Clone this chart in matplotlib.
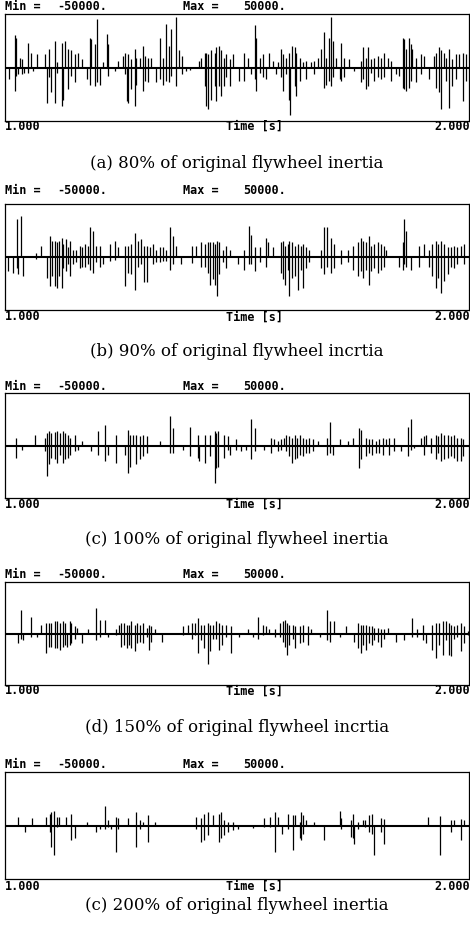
import matplotlib
matplotlib.use("Agg")
import matplotlib.pyplot as plt

# spikes: (time offset in ms from 1.000 s, peak up, peak down) in units of 1000
SPIKES_A = [
    (9, 0, -11), (22, 30, -22), (24, 28, -8), (29, 0, -6), (32, 9, 0), (36, 8, -6), (41, 0, -5),
    (50, 23, -5), (57, 14, 0), (61, 0, -3), (68, 13, 0), (86, 13, 0), (90, 0, -33), (95, 17, -9),
    (100, 0, -23), (108, 25, -33), (111, 5, -5), (122, 23, -36), (125, 0, -30), (129, 25, 0),
    (136, 17, -20), (143, 16, -8), (151, 13, -14), (158, 14, 0), (165, 8, 0), (176, 0, -11),
    (183, 28, -16), (186, 27, 0), (194, 22, -17), (199, 45, -14), (204, 0, -16), (212, 5, 0),
    (219, 31, 0), (222, 22, -8), (237, 0, -3), (244, 6, 0), (255, 11, 0), (258, 14, -6),
    (262, 0, -31), (265, 13, -33), (272, 8, -20), (280, 17, -36), (283, 9, -16), (290, 9, 0),
    (298, 20, -22), (301, 11, -13), (308, 9, -14), (315, 9, 0), (326, 0, -14), (333, 28, -11),
    (341, 9, -16), (348, 41, -13), (353, 20, -14), (358, 36, -8), (368, 47, -17), (376, 16, 0),
    (382, 11, -6), (391, 0, -3), (398, 0, -2), (419, 6, 0), (423, 9, 0), (430, 14, -17),
    (434, 14, -36), (437, 13, -39), (445, 16, -30), (452, 14, -17), (455, 19, -31), (462, 20, -17),
    (466, 16, -27), (471, 9, -17), (477, 13, -9), (484, 8, -17), (491, 13, 0), (505, 0, -13),
    (516, 14, -13), (523, 9, 0), (531, 0, -6), (538, 40, -11), (541, 28, -22), (549, 9, -5),
    (556, 13, -9), (563, 0, -11), (570, 14, 0), (577, 6, 0), (583, 0, -6), (588, 5, 0),
    (595, 17, -9), (599, 13, -22), (606, 9, -6), (612, 14, -30), (614, 0, -44), (619, 20, 0),
    (624, 19, -17), (627, 14, -27), (635, 9, -13), (642, 5, 0), (649, 6, -11), (660, 5, 0),
    (667, 6, -6), (674, 9, 0), (681, 17, 0), (688, 33, -19), (692, 9, -16), (698, 28, -13),
    (703, 47, -17), (706, 25, -9), (713, 9, 0), (721, 0, -11), (724, 23, -13), (731, 9, -9),
    (742, 8, 0), (753, 0, -3), (767, 6, -14), (771, 19, -11), (778, 9, -20), (782, 19, -17),
    (789, 8, -5), (796, 9, -13), (803, 11, -9), (810, 9, -11), (817, 14, -9), (825, 9, 0),
    (832, 6, -13), (842, 0, -6), (850, 0, -8), (857, 28, -19), (860, 27, -20), (865, 17, -22),
    (871, 28, -19), (875, 22, -13), (878, 17, 0), (885, 9, -14), (896, 13, -6), (903, 11, 0),
    (914, 0, -11), (925, 11, 0), (928, 14, -19), (936, 19, -23), (939, 16, -39), (946, 14, 0),
    (950, 9, -13), (957, 17, -38), (964, 8, -17), (972, 13, -11), (979, 13, 0), (986, 14, -31),
    (993, 13, -13),
]

SPIKES_B = [
    (7, 0, -13), (18, 0, -15), (25, 36, -10), (29, 0, -16), (34, 39, 0), (38, 0, -18), (67, 4, -2),
    (77, 10, 0), (91, 0, -20), (97, 20, -27), (102, 15, -18), (108, 15, -27), (111, 14, -29),
    (117, 15, -18), (122, 18, -29), (125, 12, -10), (131, 17, -13), (136, 9, -7), (141, 15, -18),
    (147, 7, -7), (153, 7, -5), (161, 10, -10), (165, 9, -9), (172, 12, -9), (179, 10, -7),
    (184, 28, -12), (189, 25, -15), (197, 10, -5), (204, 10, -9), (212, 0, -7), (226, 12, -4),
    (237, 15, -3), (244, 9, 0), (258, 10, -27), (265, 10, -15), (272, 12, -16), (280, 23, -31),
    (287, 15, -9), (294, 17, -7), (299, 10, -24), (305, 10, -24), (312, 9, 0), (319, 12, -7),
    (326, 7, -5), (333, 9, -5), (341, 9, -4), (348, 7, -4), (355, 28, -12), (362, 20, -7),
    (369, 10, 0), (380, 0, -7), (402, 10, -6), (412, 10, 0), (423, 14, -9), (430, 12, -9),
    (437, 14, -15), (441, 14, -26), (448, 14, -21), (452, 12, -26), (457, 15, -37), (461, 14, -16),
    (470, 7, -5), (477, 10, -10), (484, 7, 0), (502, 0, -7), (516, 7, -12), (526, 29, -7),
    (531, 21, -7), (538, 9, -13), (549, 9, -5), (563, 18, -9), (566, 14, 0), (577, 9, 0),
    (595, 14, -15), (599, 15, -21), (604, 10, -26), (609, 12, -12), (613, 15, -37), (619, 14, -20),
    (624, 10, -18), (631, 12, -31), (638, 10, -12), (642, 12, -29), (649, 9, -10), (656, 7, -5),
    (681, 7, -10), (688, 28, -16), (695, 28, -9), (703, 18, -15), (710, 12, -10), (724, 7, -7),
    (739, 7, -5), (749, 10, -12), (760, 14, -18), (767, 18, -13), (771, 15, -20), (778, 14, -12),
    (785, 20, -26), (789, 10, -13), (796, 12, -10), (803, 14, -15), (810, 12, -12), (817, 10, -9),
    (821, 7, 0), (850, 0, -9), (857, 14, -12), (860, 36, -7), (865, 25, -9), (875, 0, -12),
    (893, 10, -9), (903, 12, 0), (914, 7, -9), (921, 12, -18), (928, 15, -29), (934, 12, -20),
    (939, 15, -34), (946, 12, -23), (954, 9, -16), (961, 9, -9), (968, 10, -10), (975, 9, -7),
    (982, 10, 0), (989, 12, -7),
]

SPIKES_C = [
    (24, 7, -12), (36, 0, -4), (65, 10, 0), (86, 7, -5), (90, 12, -29), (95, 14, -18), (100, 12, -12),
    (108, 13, -13), (113, 14, -17), (118, 12, -9), (124, 14, -17), (129, 12, -13), (136, 10, -12),
    (141, 7, -9), (151, 10, -5), (158, 0, -4), (167, 4, 0), (186, 0, -5), (201, 14, -9),
    (215, 20, -15), (222, 0, -9), (239, 10, -17), (258, 0, -9), (265, 15, -26), (270, 10, -20),
    (276, 10, 0), (283, 10, -18), (290, 9, -13), (298, 10, -10), (305, 9, -7), (333, 4, 0),
    (355, 28, -7), (361, 17, -7), (384, 0, -4), (398, 18, -10), (416, 10, -12), (419, 0, -15),
    (430, 10, -17), (441, 10, -10), (452, 14, -36), (455, 12, -21), (459, 14, -20), (473, 10, -12),
    (480, 9, -4), (484, 0, -9), (498, 6, -4), (509, 0, -5), (520, 0, -4), (531, 25, -13),
    (538, 17, -5), (559, 0, -4), (574, 7, -7), (579, 6, 0), (588, 4, -5), (595, 6, -4), (602, 7, 0),
    (606, 10, -5), (613, 9, -10), (619, 7, -17), (624, 10, -13), (629, 7, -12), (635, 10, -9),
    (642, 7, -10), (649, 6, -7), (656, 7, -7), (663, 6, -5), (674, 4, 0), (695, 7, -9),
    (701, 22, -7), (706, 0, -9), (721, 6, 0), (739, 4, 0), (749, 7, 0), (764, 17, -21),
    (767, 15, -13), (778, 7, -10), (785, 6, -7), (792, 6, -9), (799, 4, -7), (807, 6, -7),
    (814, 7, -9), (821, 6, 0), (828, 7, -9), (839, 7, -5), (853, 0, -5), (868, 18, -10),
    (875, 25, -4), (882, 0, -2), (896, 7, 0), (903, 9, -9), (907, 10, 0), (918, 7, -7),
    (928, 10, -13), (934, 9, -7), (939, 12, -15), (946, 10, -13), (954, 10, -12), (961, 9, -10),
    (968, 10, -12), (975, 7, -15), (982, 7, -15), (986, 6, -10),
]

SPIKES_D = [
    (29, 0, -9), (34, 23, -5), (39, 0, -6), (57, 16, -3), (68, 0, -3), (77, 8, 0), (88, 10, -19),
    (95, 10, -13), (100, 10, -13), (108, 12, -14), (113, 12, -14), (118, 10, -16), (124, 12, -13),
    (129, 10, -11), (133, 0, -13), (140, 12, -11), (143, 10, -9), (151, 7, -5), (156, 5, 0),
    (167, 0, -9), (179, 4, 0), (197, 25, -6), (204, 13, -3), (215, 13, 0), (222, 0, -3),
    (240, 4, -1), (246, 8, 0), (251, 10, -13), (256, 10, -11), (262, 8, -14), (267, 8, -11),
    (272, 12, -14), (280, 8, -17), (285, 10, -9), (290, 8, -8), (298, 10, -9), (305, 5, -3),
    (310, 8, -16), (315, 7, -8), (323, 4, 0), (339, 0, -8), (384, 7, -1), (394, 8, 0),
    (402, 10, -5), (409, 10, -1), (416, 15, -19), (423, 8, -6), (428, 8, -14), (437, 10, -30),
    (441, 8, -17), (448, 8, -5), (455, 12, -5), (462, 10, -16), (468, 8, -11), (477, 8, -3),
    (488, 7, -19), (505, 0, -3), (523, 4, 0), (534, 0, -3), (545, 16, -5), (556, 8, -1),
    (563, 7, 0), (570, 4, 0), (581, 4, -3), (592, 10, -3), (599, 12, -8), (604, 13, -13),
    (607, 10, -21), (612, 8, -11), (620, 8, -5), (626, 7, -14), (635, 7, -9), (642, 8, -8),
    (652, 7, -11), (660, 4, 0), (678, 0, -3), (695, 23, -6), (701, 12, -8), (710, 12, 0),
    (721, 0, -3), (735, 7, 0), (753, 0, -8), (760, 10, -14), (767, 8, -19), (772, 8, -11),
    (778, 8, -16), (784, 7, -9), (791, 7, -11), (796, 5, -6), (803, 5, -8), (810, 4, -13),
    (817, 4, -5), (825, 5, 0), (842, 0, -8), (860, 0, -6), (878, 15, -3), (889, 4, -3),
    (900, 8, -6), (907, 0, -9), (921, 8, -16), (928, 10, -24), (936, 10, -11), (943, 12, -21),
    (950, 12, -6), (957, 10, -21), (961, 8, -22), (968, 7, -5), (975, 8, -3), (982, 10, -17),
    (989, 7, -9), (997, 2, -1),
]

SPIKES_E = [
    (29, 8, 0), (43, 0, -6), (59, 7, 0), (88, 8, 0), (97, 11, -6), (100, 13, -20), (105, 14, -28),
    (111, 8, -1), (117, 8, 0), (131, 8, 0), (143, 11, -14), (151, 0, -12), (176, 3, 0),
    (197, 0, -6), (204, 0, -3), (215, 18, -3), (222, 5, -1), (229, 0, -3), (240, 8, -25),
    (244, 7, -3), (265, 7, 0), (283, 13, -20), (290, 5, -3), (298, 3, 0), (308, 10, -15),
    (323, 3, 0), (412, 8, -3), (423, 7, -15), (428, 11, -14), (437, 13, -9), (448, 10, 0),
    (461, 11, -15), (466, 13, -12), (473, 5, -9), (480, 3, -6), (491, 3, -4), (502, 0, -3),
    (534, 0, -2), (559, 7, -1), (571, 8, -1), (581, 13, -25), (588, 8, 0), (597, 0, -8),
    (609, 11, -3), (620, 10, -23), (624, 10, 0), (635, 3, -12), (638, 13, -14), (642, 10, -8),
    (649, 5, 0), (667, 3, 0), (688, 0, -14), (721, 14, 0), (724, 7, -3), (746, 5, -11),
    (749, 11, -12), (753, 0, -17), (760, 3, -3), (771, 5, 0), (776, 5, -1), (785, 10, -6),
    (791, 11, -8), (796, 0, -28), (810, 7, -6), (817, 6, -17), (911, 8, 0), (937, 9, -28),
    (961, 5, -6), (968, 5, 0), (982, 6, -14), (989, 5, 0),
]

CAPTIONS = [
    "(a) 80% of original flywheel inertia",
    "(b) 90% of original flywheel incrtia",
    "(c) 100% of original flywheel inertia",
    "(d) 150% of original flywheel incrtia",
    "(c) 200% of original flywheel inertia",
]
Y_MIN = -50000
Y_MAX = 50000
T_START = 1.0
T_END = 2.0

W, H = 470, 932
# pixel layout of each panel: box top, box bottom, top-label y, bottom-label y, caption y
LAYOUT = [
    (14, 121, 6, 126, 163),
    (204, 310, 190, 317, 351),
    (393, 498, 386, 504, 540),
    (582, 685, 574, 691, 727),
    (772, 879, 764, 886, 906),
]

fig = plt.figure(figsize=(W / 100, H / 100), dpi=100)
fig.patch.set_facecolor("white")

mono = dict(family="DejaVu Sans Mono", fontweight="bold", fontsize=8.5, color="black")


def fx(px):
    return px / W


def fy(py):
    return 1 - py / H


for spikes, caption, (top, bot, ylab, ybot, ycap) in zip(
        [SPIKES_A, SPIKES_B, SPIKES_C, SPIKES_D, SPIKES_E], CAPTIONS, LAYOUT):
    ax = fig.add_axes([fx(5), fy(bot), fx(464), (bot - top) / H])
    t = [T_START + s[0] / 1000 for s in spikes]
    up = [s[1] * 1000 for s in spikes]
    dn = [s[2] * 1000 for s in spikes]
    ax.vlines(t, dn, up, color="black", linewidth=0.9)
    ax.axhline(0, color="black", linewidth=1.5)
    ax.set_xlim(T_START, T_END)
    ax.set_ylim(Y_MIN, Y_MAX)
    ax.set_xticks([])
    ax.set_yticks([])
    for sp in ax.spines.values():
        sp.set_linewidth(0.9)
        sp.set_color("black")

    fig.text(fx(5), fy(ylab), "Min =", ha="left", va="center", **mono)
    fig.text(fx(57), fy(ylab), f"{Y_MIN}.", ha="left", va="center", **mono)
    fig.text(fx(183), fy(ylab), "Max =", ha="left", va="center", **mono)
    fig.text(fx(243), fy(ylab), f"{Y_MAX}.", ha="left", va="center", **mono)

    fig.text(fx(5), fy(ybot), f"{T_START:.3f}", ha="left", va="center", **mono)
    fig.text(fx(254), fy(ybot), "Time [s]", ha="center", va="center", **mono)
    fig.text(fx(470), fy(ybot), f"{T_END:.3f}", ha="right", va="center", **mono)

    fig.text(fx(237), fy(ycap), caption, ha="center", va="center",
             family="DejaVu Serif", fontsize=12)

fig.savefig("out.png", dpi=100, facecolor="white")
